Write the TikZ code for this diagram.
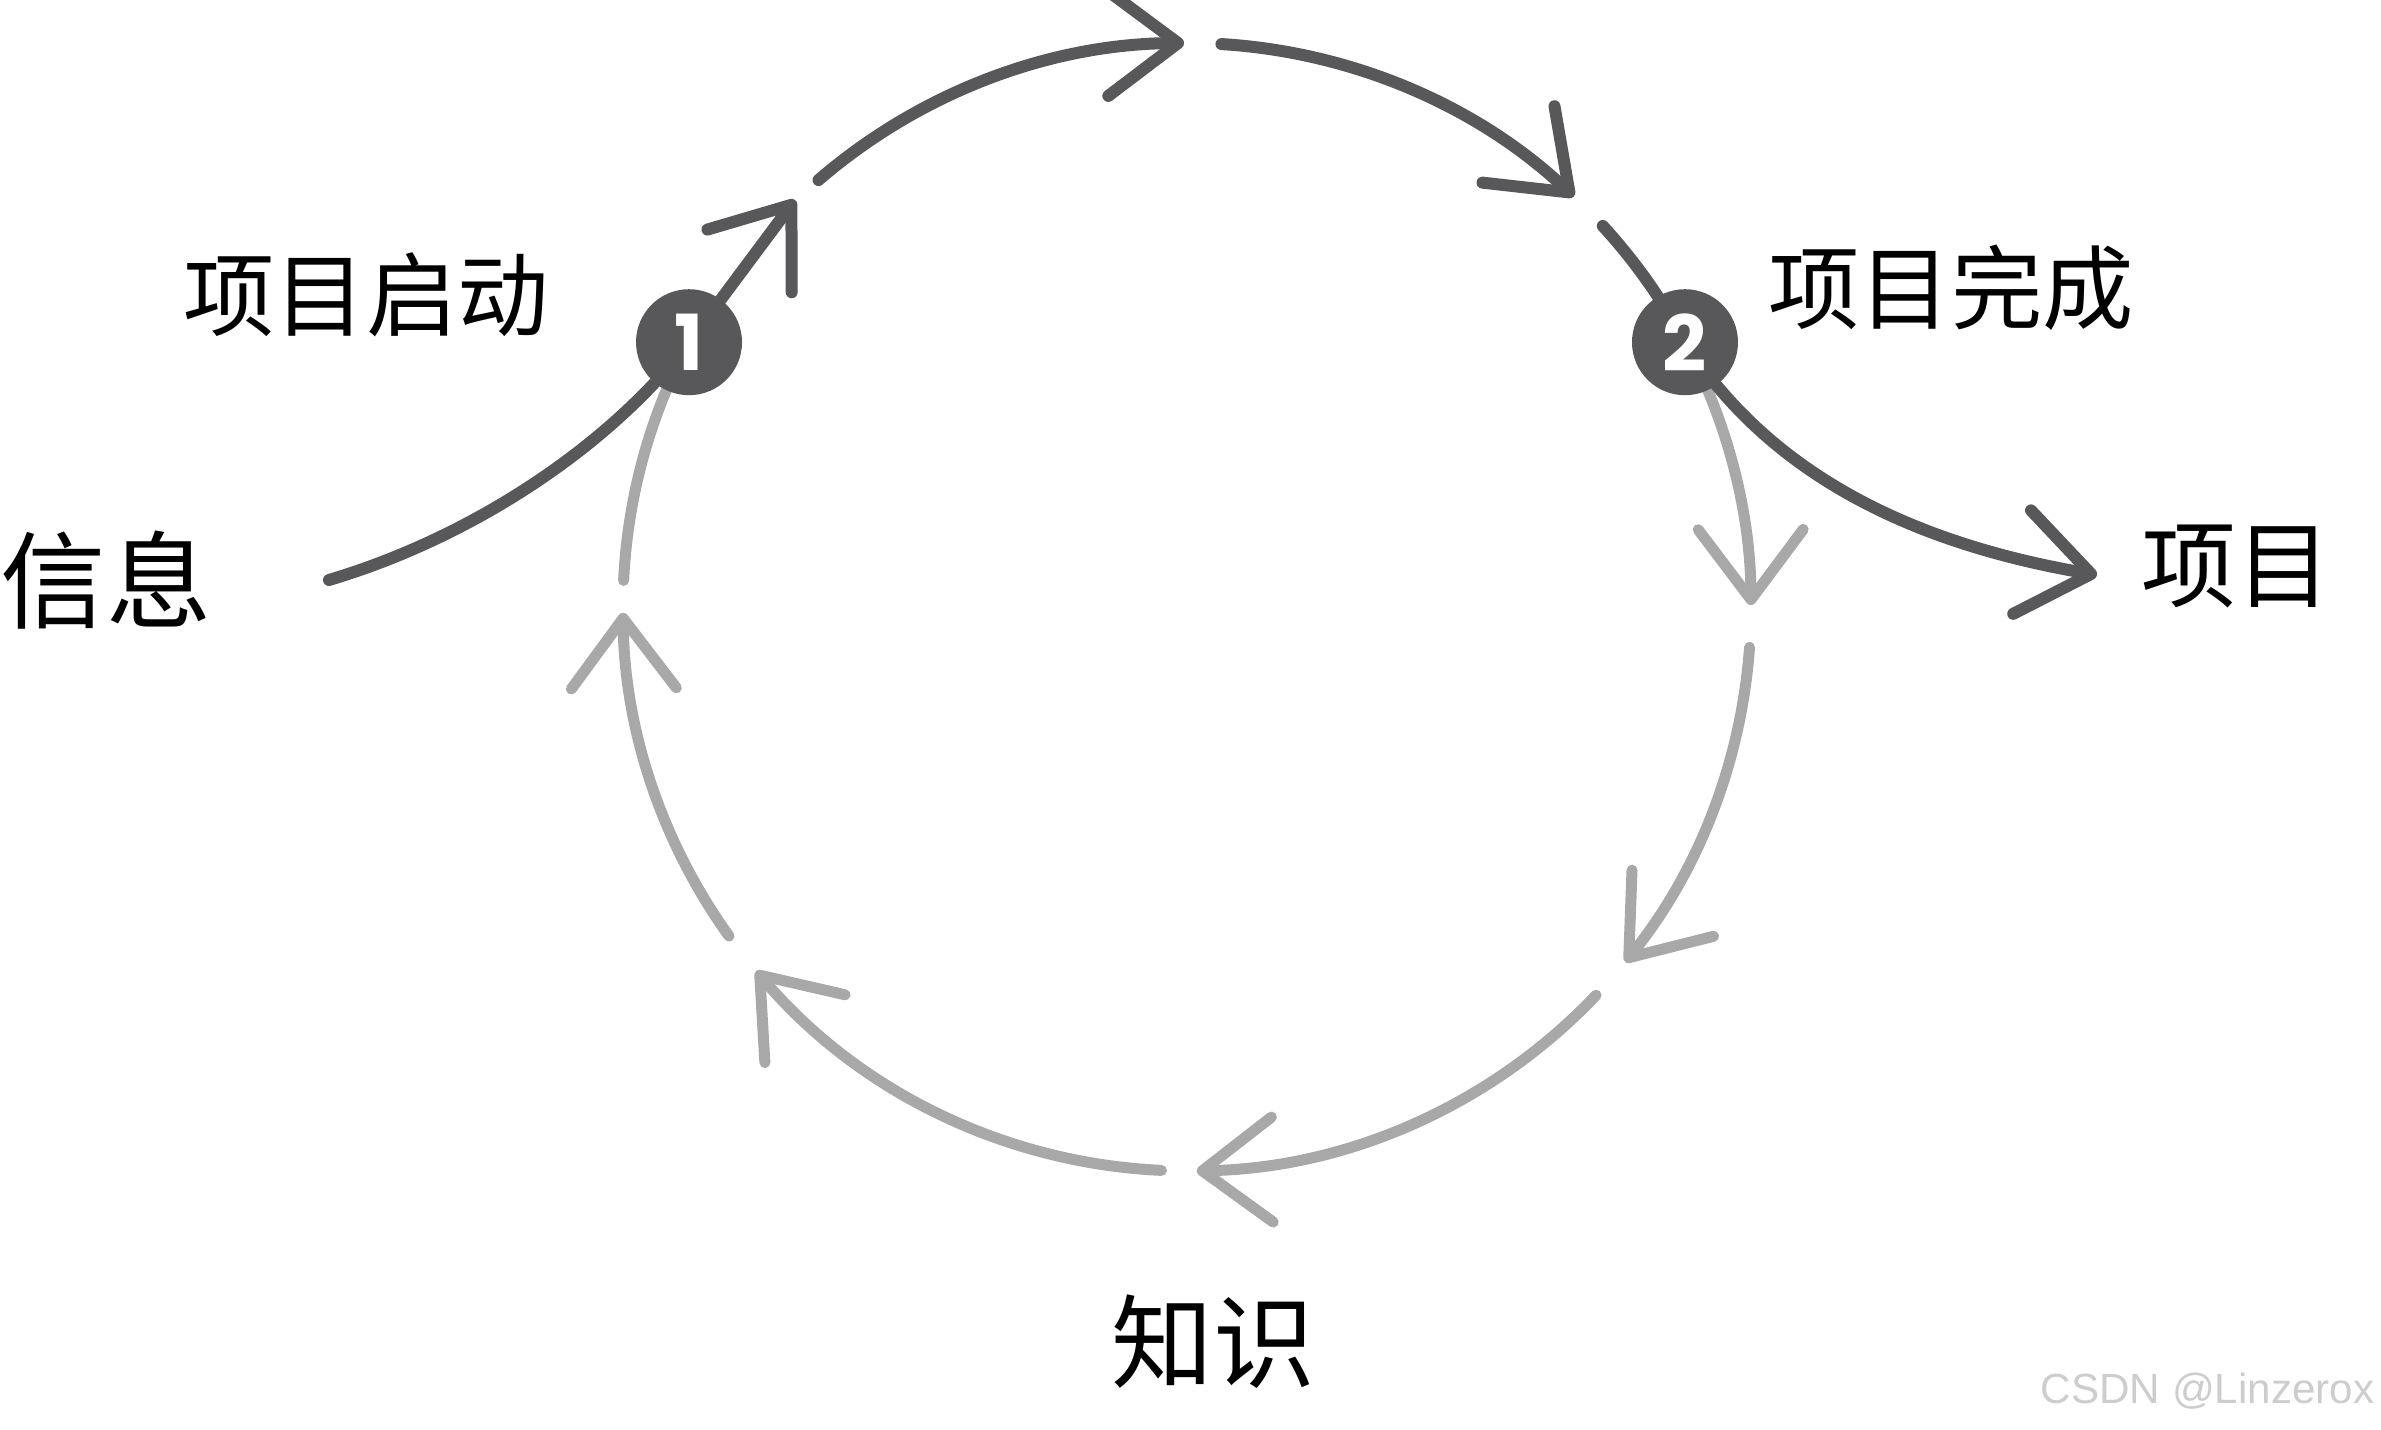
\documentclass[tikz,border=0pt]{standalone}
\usepackage{fontspec}
\newfontfamily\cjk{Noto Sans CJK SC}
\newfontfamily\numfont{Poppins}
\setsansfont{Liberation Sans}
\usetikzlibrary{arrows.meta,calc}
\definecolor{darkg}{RGB}{88,87,89}
\definecolor{lightg}{RGB}{168,168,168}
\definecolor{wmark}{RGB}{205,205,205}
\begin{document}
\begin{tikzpicture}[x=0.1mm,y=0.1mm,
  tipv/.style={-{Straight Barb[length=7mm,width=10.5mm,round]}},
  dk/.style={draw=darkg,line width=1.2mm,line cap=round},
  lt/.style={draw=lightg,line width=1.1mm,line cap=round},
  num/.style={circle,fill=darkg,minimum size=10.6mm,inner sep=0pt,text=white,
    font=\numfont\bfseries\fontsize{22}{22}\selectfont},
  lab/.style={text=black,inner sep=0pt}
]
\useasboundingbox (0,0) rectangle (2381,1430);
\coordinate (O) at (1187,823);
\def\R{564}
% points on the ring
\path (O) ++(152:\R) coordinate (c1);
\path (O) ++(28:\R) coordinate (c2);
\path (O) ++(130.8:\R) coordinate (a0);
\path (O) ++(86.5:\R) coordinate (b0);
\path (O) ++(42.5:\R) coordinate (e0);
\path (O) ++(-4.1:\R) coordinate (f0);
\path (O) ++(-43.5:\R) coordinate (g0);
\path (O) ++(-92.6:\R) coordinate (h0);
\path (O) ++(-144.3:\R) coordinate (i0);
\path (O) ++(177.3:\R) coordinate (j0);
% outer points
\coordinate (infoS) at (329,850);
\coordinate (t1) at (795,1230);
\coordinate (tout) at (2097,855);

% light ring (knowledge loop)
\draw[lt,tipv] (c2) arc[start angle=28,end angle=0.2,radius=\R];
\draw[lt,tipv] (f0) arc[start angle=-4.1,end angle=-39,radius=\R];
\draw[lt,tipv] (g0) arc[start angle=-43.5,end angle=-89,radius=\R];
\draw[lt,tipv] (h0) arc[start angle=-92.6,end angle=-139.8,radius=\R];
\draw[lt,tipv] (i0) arc[start angle=-144.3,end angle=-179.4,radius=\R];
\draw[lt] (j0) arc[start angle=177.3,end angle=152,radius=\R];

% dark ring (project)
\draw[dk,tipv] (a0) arc[start angle=130.8,end angle=90.3,radius=\R];
\draw[dk,tipv] (b0) arc[start angle=86.5,end angle=46.7,radius=\R];
\draw[dk] (e0) arc[start angle=42.5,end angle=28,radius=\R];

% input and output
\draw[dk,tipv] (infoS) .. controls (480,895) and (615,990) .. (c1) -- (t1);
\draw[dk,tipv] (c2) .. controls (1780,940) and (1940,882) .. (tout);

% numbered markers
\node[num] (n1) at (c1) {1};
\node[num] (n2) at (c2) {2};

% labels
\node[lab,font=\cjk\fontsize{26}{26}\selectfont] (start) at (366,1135) {项目启动};
\node[lab,font=\cjk\fontsize{26}{26}\selectfont] (done) at (1951,1142) {项目完成};
\node[lab,font=\cjk\fontsize{30}{30}\selectfont] (info) at (106,850) {信息};
\node[lab,font=\cjk\fontsize{27}{27}\selectfont] (proj) at (2236,864) {项目};
\node[lab,font=\cjk\fontsize{29}{29}\selectfont] (know) at (1213,88) {知识};
\node[anchor=east,inner sep=0pt,text=wmark,font=\sffamily\fontsize{12}{12}\selectfont] (wm) at (2375,39) {CSDN @Linzerox};
\end{tikzpicture}
\end{document}
